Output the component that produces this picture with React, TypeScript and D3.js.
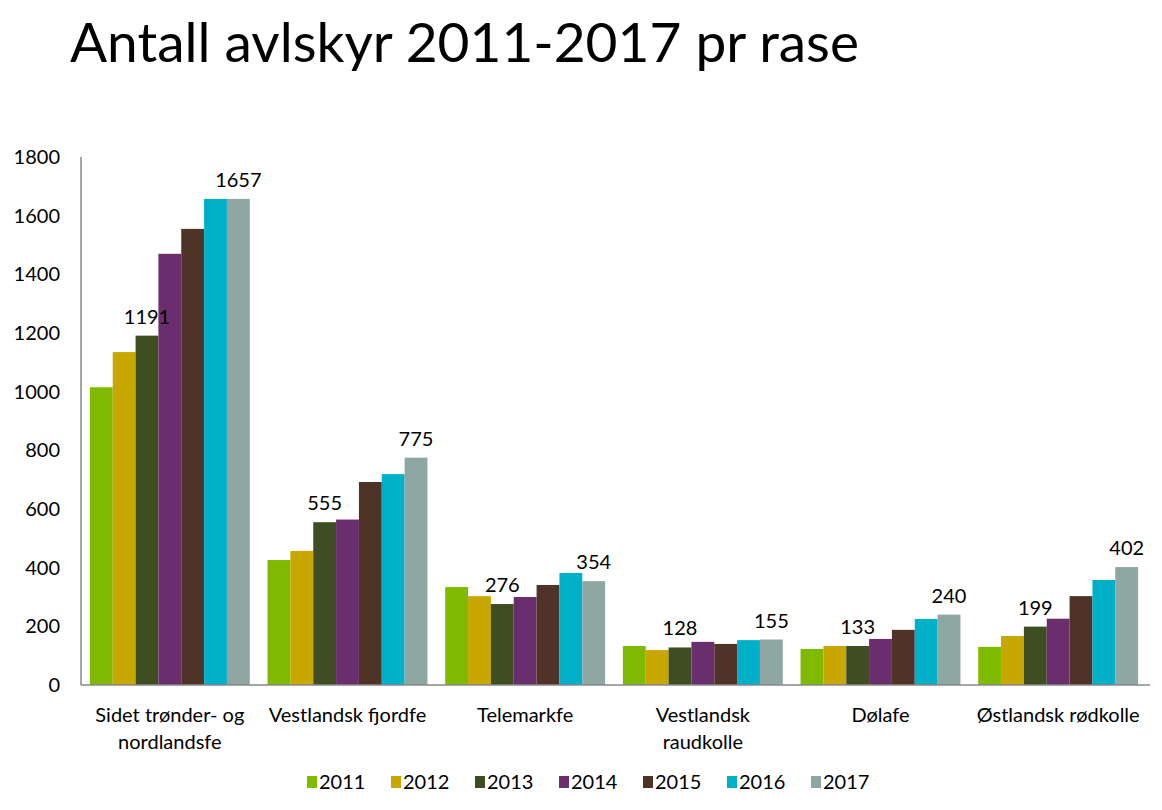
import React from 'react';
import * as d3 from 'd3';

const categories = [
  'Sidet trønder- og|nordlandsfe',
  'Vestlandsk fjordfe',
  'Telemarkfe',
  'Vestlandsk|raudkolle',
  'Dølafe',
  'Østlandsk rødkolle',
];
const years = ['2011', '2012', '2013', '2014', '2015', '2016', '2017'];
const colors = ['#80BA00', '#C8A800', '#3F4E22', '#6A2E6E', '#4F3327', '#00B0C8', '#8FA7A2'];

// values per year, one entry per category
const v2011 = [1015, 426, 334, 133, 123, 130];
const v2012 = [1135, 457, 303, 119, 133, 167];
const v2013 = [1191, 555, 276, 128, 133, 199];
const v2014 = [1470, 564, 300, 147, 157, 226];
const v2015 = [1555, 692, 341, 140, 188, 303];
const v2016 = [1657, 719, 382, 153, 225, 358];
const v2017 = [1657, 775, 354, 155, 240, 402];
const series = [v2011, v2012, v2013, v2014, v2015, v2016, v2017];

const yTicks = [0, 200, 400, 600, 800, 1000, 1200, 1400, 1600, 1800];
// labelled years (index)
const labelled = [2, 6];

const W = 1162;
const H = 810;
const font = 'Lato, "Open Sans", sans-serif';

const App: React.FC = () => {
  const x0 = d3.scaleBand<number>().domain(d3.range(categories.length)).range([81, 1147]).paddingInner(0.1).paddingOuter(0.05);
  const x1 = d3.scaleBand<number>().domain(d3.range(years.length)).range([0, x0.bandwidth()]);
  const y = d3.scaleLinear().domain([0, 1800]).range([685, 157]);

  const legendStep = 84;
  const legendX = 307;

  return (
    <div style={{ position: 'absolute', left: 0, top: 0 }}>
      <svg width={W} height={H} style={{ display: 'block', background: '#fff' }}>
        <text x={70} y={62} fontFamily={font} fontSize={55} fill="#000">
          Antall avlskyr 2011-2017 pr rase
        </text>

        {yTicks.map((t) => (
          <text key={t} x={60} y={y(t)} dy="0.35em" textAnchor="end" fontFamily={font} fontSize={20} fill="#000">
            {t}
          </text>
        ))}

        {series.map((vals, si) =>
          vals.map((v, ci) => (
            <rect
              key={`${si}-${ci}`}
              x={(x0(ci) ?? 0) + (x1(si) ?? 0)}
              y={y(v)}
              width={x1.bandwidth()}
              height={y(0) - y(v)}
              fill={colors[si]}
            />
          ))
        )}

        {labelled.map((si) =>
          series[si].map((v, ci) => (
            <text
              key={`l${si}-${ci}`}
              x={(x0(ci) ?? 0) + (x1(si) ?? 0) + x1.bandwidth() / 2}
              y={y(v) - 12}
              textAnchor="middle"
              fontFamily={font}
              fontSize={20}
              fill="#000"
            >
              {v}
            </text>
          ))
        )}

        <line x1={81} x2={81} y1={157} y2={685} stroke="#888" strokeWidth={1.5} />
        <line x1={81} x2={1150} y1={685} y2={685} stroke="#888" strokeWidth={1.5} />

        {categories.map((c, ci) =>
          c.split('|').map((line, li) => (
            <text
              key={`c${ci}-${li}`}
              x={(x0(ci) ?? 0) + x0.bandwidth() / 2}
              y={722 + li * 27}
              textAnchor="middle"
              fontFamily={font}
              fontSize={20}
              fill="#000"
            >
              {line}
            </text>
          ))
        )}

        {years.map((yr, i) => (
          <g key={yr} transform={`translate(${legendX + i * legendStep},782)`}>
            <rect x={0} y={-6} width={10} height={12} fill={colors[i]} />
            <text x={12} y={0} dy="0.35em" fontFamily={font} fontSize={20} fill="#000">
              {yr}
            </text>
          </g>
        ))}
      </svg>
    </div>
  );
};

export default App;
